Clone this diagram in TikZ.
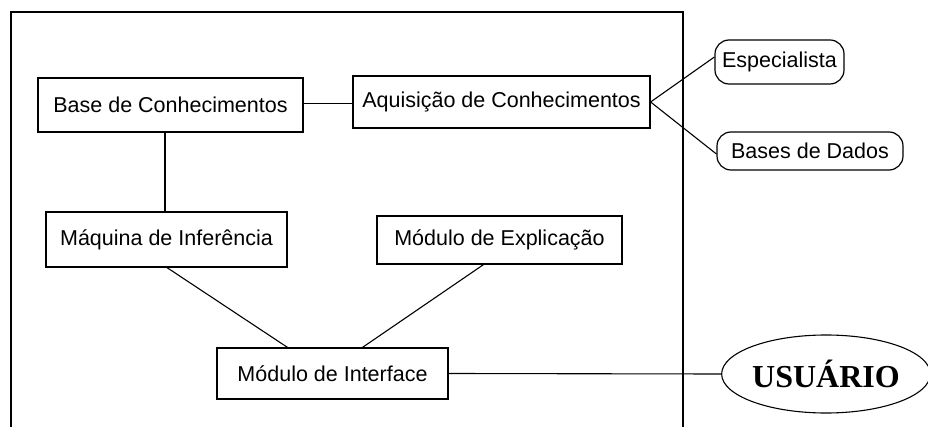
\documentclass[tikz,border=0pt]{standalone}
\usepackage{fontspec}
\setmainfont{Liberation Sans}
\newfontfamily\userfont{Liberation Serif}
\usetikzlibrary{shapes.geometric}
\begin{document}
\begin{tikzpicture}[x=1pt,y=-1pt,
  every node/.style={font=\fontsize{21.5}{24}\selectfont, inner sep=0pt},
  box/.style={draw, line width=1.2pt, rectangle},
  ext/.style={draw, line width=1.2pt, rounded corners=14pt},
  conn/.style={line width=1.1pt}]
\useasboundingbox (0,0) rectangle (928,427);
% frame
\draw[line width=1.2pt] (11,427) -- (11,12) -- (683,12) -- (683,427);
% nodes
\node[box, minimum width=265, minimum height=54] (base) at (170.5,105) {Base de Conhecimentos};
\node[box, minimum width=297, minimum height=52] (aq) at (501.5,102) {Aquisição de Conhecimentos};
\node[box, minimum width=241, minimum height=55] (maq) at (166.5,239.5) {Máquina de Inferência};
\node[box, minimum width=245, minimum height=48] (exp) at (499.5,240) {Módulo de Explicação};
\node[box, minimum width=231, minimum height=51] (int) at (332.5,373.5) {Módulo de Interface};
\node[ext, minimum width=129, minimum height=44] (esp) at (779.5,62) {Especialista};
\node[ext, minimum width=186, minimum height=38] (bd) at (810,151) {Bases de Dados};
\node[draw, line width=1.1pt, ellipse, minimum width=202, minimum height=78,
  font=\userfont\bfseries\fontsize{32}{36}\selectfont] (usr) at (826,374) {USUÁRIO};
% connectors
\draw[conn] (base.east |- 0,103.5) coordinate (b0) -- (b0 -| aq.west);
\draw[conn] (base.south -| 165,0) coordinate (b1) -- (b1 |- maq.north);
\draw[conn] (aq.east) -- ([yshift=5pt]esp.west);
\draw[conn] (aq.east) -- ([yshift=-3pt]bd.west);
\draw[conn] ([xshift=0.5pt]maq.south) -- ([xshift=-45pt]int.north);
\draw[conn] ([xshift=-16pt]exp.south) -- ([xshift=30pt]int.north);
\draw[conn] (int.east) -- (usr.west);
\end{tikzpicture}
\end{document}
